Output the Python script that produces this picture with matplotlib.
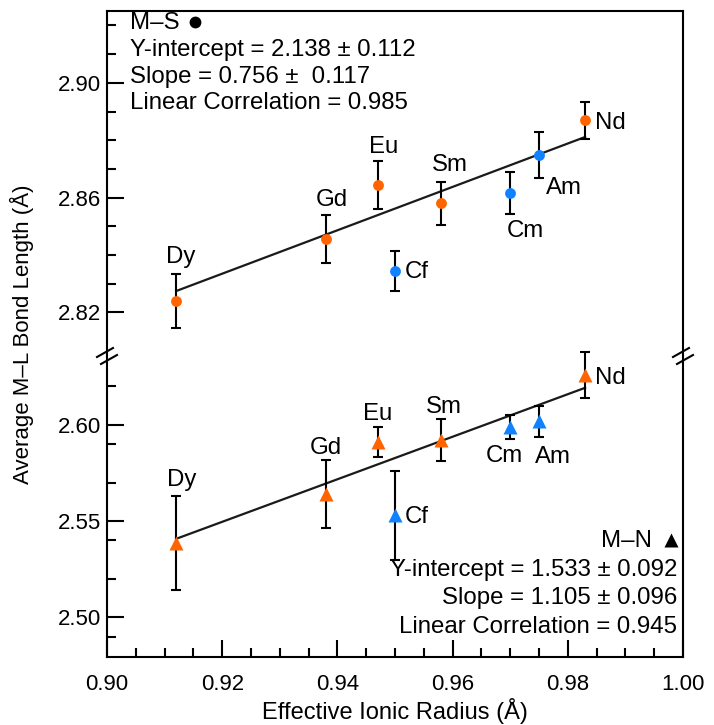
import matplotlib
matplotlib.use('Agg')
import matplotlib.pyplot as plt
from matplotlib.lines import Line2D
from matplotlib.ticker import FixedLocator, MultipleLocator, FormatStrFormatter

plt.rcParams['font.family'] = ['Liberation Sans', 'DejaVu Sans']

# data
elements = ['Dy', 'Gd', 'Eu', 'Sm', 'Nd', 'Cf', 'Cm', 'Am']
series = ['Ln', 'Ln', 'Ln', 'Ln', 'Ln', 'An', 'An', 'An']
radius = [0.912, 0.938, 0.947, 0.958, 0.983, 0.950, 0.970, 0.975]

ms_length = [2.824, 2.8455, 2.8645, 2.858, 2.887, 2.8345, 2.8616, 2.875]
ms_error = [0.0094, 0.0083, 0.0083, 0.0076, 0.0065, 0.0069, 0.0073, 0.0080]
mn_length = [2.5387, 2.564, 2.591, 2.592, 2.626, 2.553, 2.5988, 2.6018]
mn_error = [0.0244, 0.0177, 0.0079, 0.0110, 0.0120, 0.0230, 0.0062, 0.0079]

ms_fit = (2.138, 0.756)   # intercept, slope
mn_fit = (1.533, 1.105)
fit_range = [0.912, 0.983]

ms_text = ['M\u2013S', 'Y-intercept = 2.138 \u00b1 0.112',
           'Slope = 0.756 \u00b1  0.117', 'Linear Correlation = 0.985']
mn_text = ['M\u2013N', 'Y-intercept = 1.533 \u00b1 0.092',
           'Slope = 1.105 \u00b1 0.096', 'Linear Correlation = 0.945']

colors = {'Ln': '#FF6400', 'An': '#0F82FF'}

# label offsets (points) and alignment per element
ms_labels = {'Dy': (3, 32, 'center'), 'Gd': (4, 28, 'center'), 'Eu': (4, 27, 'center'),
             'Sm': (6, 28, 'center'), 'Cm': (11, -27, 'center'), 'Am': (18, -24, 'center'),
             'Cf': (7, -1, 'left'), 'Nd': (7, -2, 'left')}
mn_labels = {'Dy': (4, 45, 'center'), 'Gd': (0, 33, 'center'), 'Eu': (0, 20, 'center'),
             'Sm': (2, 24, 'center'), 'Cm': (-4, -21, 'center'), 'Am': (10, -26, 'center'),
             'Cf': (7, -1, 'left'), 'Nd': (7, -2, 'left')}

W, H = 714, 725
fig = plt.figure(figsize=(W / 100, H / 100), dpi=100)
left, right, top, brk, bottom = 107, 683, 11, 356, 657
ax_top = fig.add_axes([left / W, 1 - brk / H, (right - left) / W, (brk - top) / H])
ax_bot = fig.add_axes([left / W, 1 - bottom / H, (right - left) / W, (bottom - brk) / H])

TICK_FS = 16
TEXT_FS = 17.3


def draw(ax, yvals, yerr, fit, marker, msize, labels):
    x0, x1 = fit_range
    ax.plot(fit_range, [fit[0] + fit[1] * x0, fit[0] + fit[1] * x1],
            color='#1a1a1a', lw=1.6, zorder=2)
    for i, el in enumerate(elements):
        cont = ax.errorbar(radius[i], yvals[i], yerr=yerr[i], fmt=marker,
                           color=colors[series[i]], ms=msize, mec='none',
                           ecolor='black', elinewidth=1.5, capsize=3.7, capthick=1.5,
                           zorder=3)
        for art in cont.lines[1] + cont.lines[2]:
            art.set_clip_on(False)
            art.set_zorder(2.5)
        cont.lines[0].set_zorder(4)
        cont.lines[0].set_clip_on(False)
        dx, dy, ha = labels[el]
        ax.annotate(el, (radius[i], yvals[i]), xytext=(dx, dy),
                    textcoords='offset points', ha=ha, va='center', fontsize=TEXT_FS)


draw(ax_top, ms_length, ms_error, ms_fit, 'o', 7.8, ms_labels)
draw(ax_bot, mn_length, mn_error, mn_fit, '^', 9.5, mn_labels)

for ax in (ax_top, ax_bot):
    ax.set_xlim(0.90, 1.00)
    for s in ax.spines.values():
        s.set_linewidth(1.5)
    ax.tick_params(which='both', direction='in', width=1.5, labelsize=TICK_FS,
                   top=False, right=False)
    ax.tick_params(which='major', length=12, pad=4)
    ax.tick_params(which='minor', length=6.5)
    ax.yaxis.set_major_formatter(FormatStrFormatter('%.2f'))

ax_top.set_ylim(2.80484, 2.92505)
ax_top.yaxis.set_major_locator(FixedLocator([2.82, 2.86, 2.90]))
ax_top.yaxis.set_minor_locator(FixedLocator([2.83, 2.84, 2.85, 2.87, 2.88, 2.89, 2.91, 2.92]))
ax_top.spines['bottom'].set_visible(False)
ax_top.tick_params(axis='x', which='both', bottom=False, labelbottom=False)

ax_bot.set_ylim(2.47938, 2.63574)
ax_bot.yaxis.set_major_locator(FixedLocator([2.50, 2.55, 2.60]))
ax_bot.yaxis.set_minor_locator(FixedLocator([2.49, 2.52, 2.54, 2.57, 2.59, 2.62]))
ax_bot.spines['top'].set_visible(False)
ax_bot.xaxis.set_major_locator(MultipleLocator(0.02))
ax_bot.xaxis.set_minor_locator(MultipleLocator(0.005))
ax_bot.xaxis.set_major_formatter(FormatStrFormatter('%.2f'))
ax_bot.tick_params(axis='x', which='major', pad=12)

# axis break marks
for xp in (left, right):
    for ox, oy in ((-2, -3.5), (2, 3.5)):
        cx, cy = xp + ox, brk + oy
        fig.add_artist(Line2D([(cx - 8) / W, (cx + 8) / W],
                              [1 - (cy + 4.5) / H, 1 - (cy - 4.5) / H],
                              color='black', lw=1.5, transform=fig.transFigure))

# fit statistics, with the series symbol after the heading
for txt, yp in zip(ms_text, [23, 50, 77, 103]):
    fig.text(130 / W, 1 - yp / H, txt, fontsize=TEXT_FS, ha='left', va='center')
for txt, yp in zip(mn_text, [541, 570, 598, 627]):
    fig.text((mn_text.index(txt) == 0 and 652 or 677) / W, 1 - yp / H, txt,
             fontsize=TEXT_FS, ha='right', va='center')
fig.add_artist(Line2D([195 / W], [1 - 22 / H], marker='o', ms=8.5, color='black',
                      mec='none', transform=fig.transFigure))
fig.add_artist(Line2D([671 / W], [1 - 540 / H], marker='^', ms=9.5, color='black',
                      mec='none', transform=fig.transFigure))

fig.text(395 / W, 1 - 711 / H, 'Effective Ionic Radius (\u00c5)', fontsize=17,
         ha='center', va='center')
fig.text(22 / W, 1 - 334 / H, 'Average M\u2013L Bond Length (\u00c5)', fontsize=16,
         ha='center', va='center', rotation=90)

fig.savefig('out.png', dpi=100)
